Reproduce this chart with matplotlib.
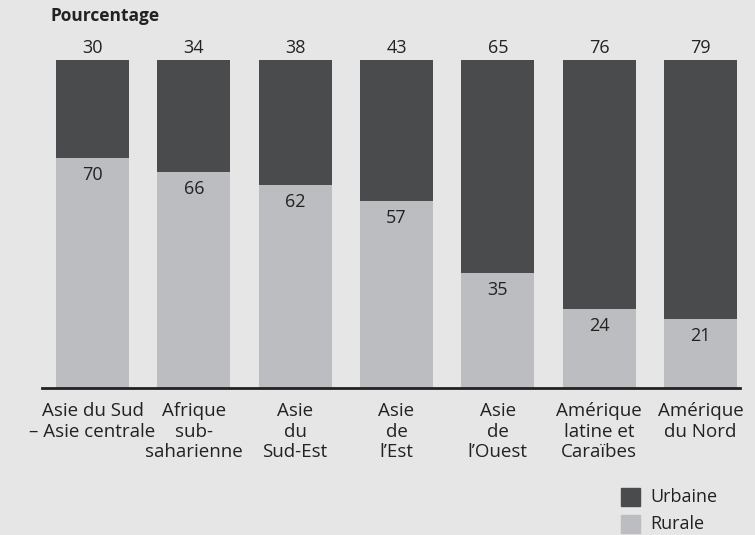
import numpy as np
import matplotlib.pyplot as plt
from matplotlib.patches import Rectangle

regions = ["Asie du Sud\n– Asie centrale", "Afrique\nsub-\nsaharienne", "Asie\ndu\nSud-Est",
           "Asie\nde\nl’Est", "Asie\nde\nl’Ouest", "Amérique\nlatine et\nCaraïbes", "Amérique\ndu Nord"]
urbaine = [30, 34, 38, 43, 65, 76, 79]
rurale = [70, 66, 62, 57, 35, 24, 21]

bg = "#e6e6e6"
c_urb = "#4a4b4d"
c_rur = "#bcbdc0"
tc = "#222222"
plt.rcParams['font.family'] = ['Open Sans', 'DejaVu Sans']

W, H = 755, 535
fig = plt.figure(figsize=(W / 100, H / 100), dpi=100, facecolor=bg)
ax = fig.add_axes([42 / W, 1 - 388 / H, (740 - 42) / W, (388 - 60) / H], facecolor=bg)

x = np.arange(len(regions))
ax.bar(x, rurale, 0.72, color=c_rur)
ax.bar(x, urbaine, 0.72, bottom=rurale, color=c_urb)

for i in range(len(x)):
    ax.text(x[i], 103.8, str(urbaine[i]), ha="center", va="center", fontsize=13, color=tc)
    ax.text(x[i], rurale[i] - 5.2, str(rurale[i]), ha="center", va="center", fontsize=13, color=tc)

ax.set_xlim(-0.498, 6.39)
ax.set_ylim(0, 100)
for s in ["top", "right", "left"]:
    ax.spines[s].set_visible(False)
ax.spines["bottom"].set_linewidth(2)
ax.spines["bottom"].set_color(tc)
ax.set_yticks([])
ax.set_xticks(x)
ax.set_xticklabels(regions, fontsize=13.5, color=tc, linespacing=1.2)
ax.tick_params(axis="x", length=0, pad=10)

fig.text(50 / W, 1 - 16 / H, "Pourcentage", fontsize=12.5, fontweight="bold", color=tc, va="center")

# legende
leg = [("Urbaine", c_urb, 488), ("Rurale", c_rur, 515)]
for lab, col, top in leg:
    fig.patches.append(Rectangle((621 / W, 1 - (top + 18) / H), 19 / W, 18 / H,
                                 transform=fig.transFigure, color=col))
    fig.text(650 / W, 1 - (top + 9) / H, lab, fontsize=13, color=tc, va="center")

plt.savefig("out.png", dpi=100, facecolor=bg)
